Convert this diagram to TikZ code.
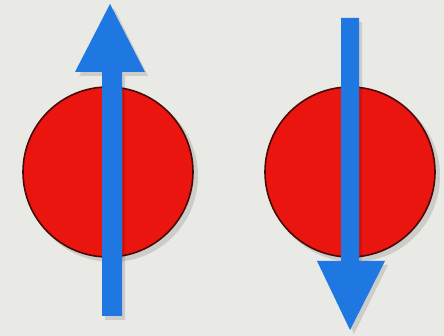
\documentclass[tikz,border=0pt]{standalone}
\begin{document}
\begin{tikzpicture}[x=1pt,y=-1pt,
  bgcol/.style={fill=bgc},
  ball/.style={circle,draw=ballline,line width=1.6pt,fill=ballred,minimum size=170pt,inner sep=0pt},
  ballshadow/.style={circle,fill=black,opacity=0.12,minimum size=172pt,inner sep=0pt},
  spinarrow/.style={fill=spinblue},
  arrowshadow/.style={fill=black,opacity=0.12}]
\definecolor{bgc}{HTML}{E9E9E5}
\definecolor{ballred}{HTML}{EA150F}
\definecolor{ballline}{HTML}{4A0A08}
\definecolor{spinblue}{HTML}{1F78E2}
\fill[bgcol] (0,0) rectangle (444,336);
\useasboundingbox (0,0) rectangle (444,336);
% shadows
\node[ballshadow] at (112,176) {};
\node[ballshadow] at (354,176) {};
% balls
\node[ball] (up) at (108,172) {};
\node[ball] (down) at (350,172) {};
% arrow shadows
\fill[arrowshadow] (105,320) -- (125,320) -- (125,76) -- (148,76) -- (114,8) -- (79,76) -- (105,76) -- cycle;
\fill[arrowshadow] (344,22) -- (362,22) -- (362,265) -- (388,265) -- (354,334) -- (320,265) -- (344,265) -- cycle;
% up arrow
\coordinate (upTail) at (112,316);
\coordinate (upTip) at (110,4);
\fill[spinarrow] (102,316) -- (122,316) -- (122,72) -- (145,72) -- (upTip) -- (75,72) -- (102,72) -- cycle;
% down arrow
\coordinate (downTail) at (350,18);
\coordinate (downTip) at (350,330);
\fill[spinarrow] (341,18) -- (359,18) -- (359,261) -- (385,261) -- (downTip) -- (317,261) -- (341,261) -- cycle;
\end{tikzpicture}
\end{document}
